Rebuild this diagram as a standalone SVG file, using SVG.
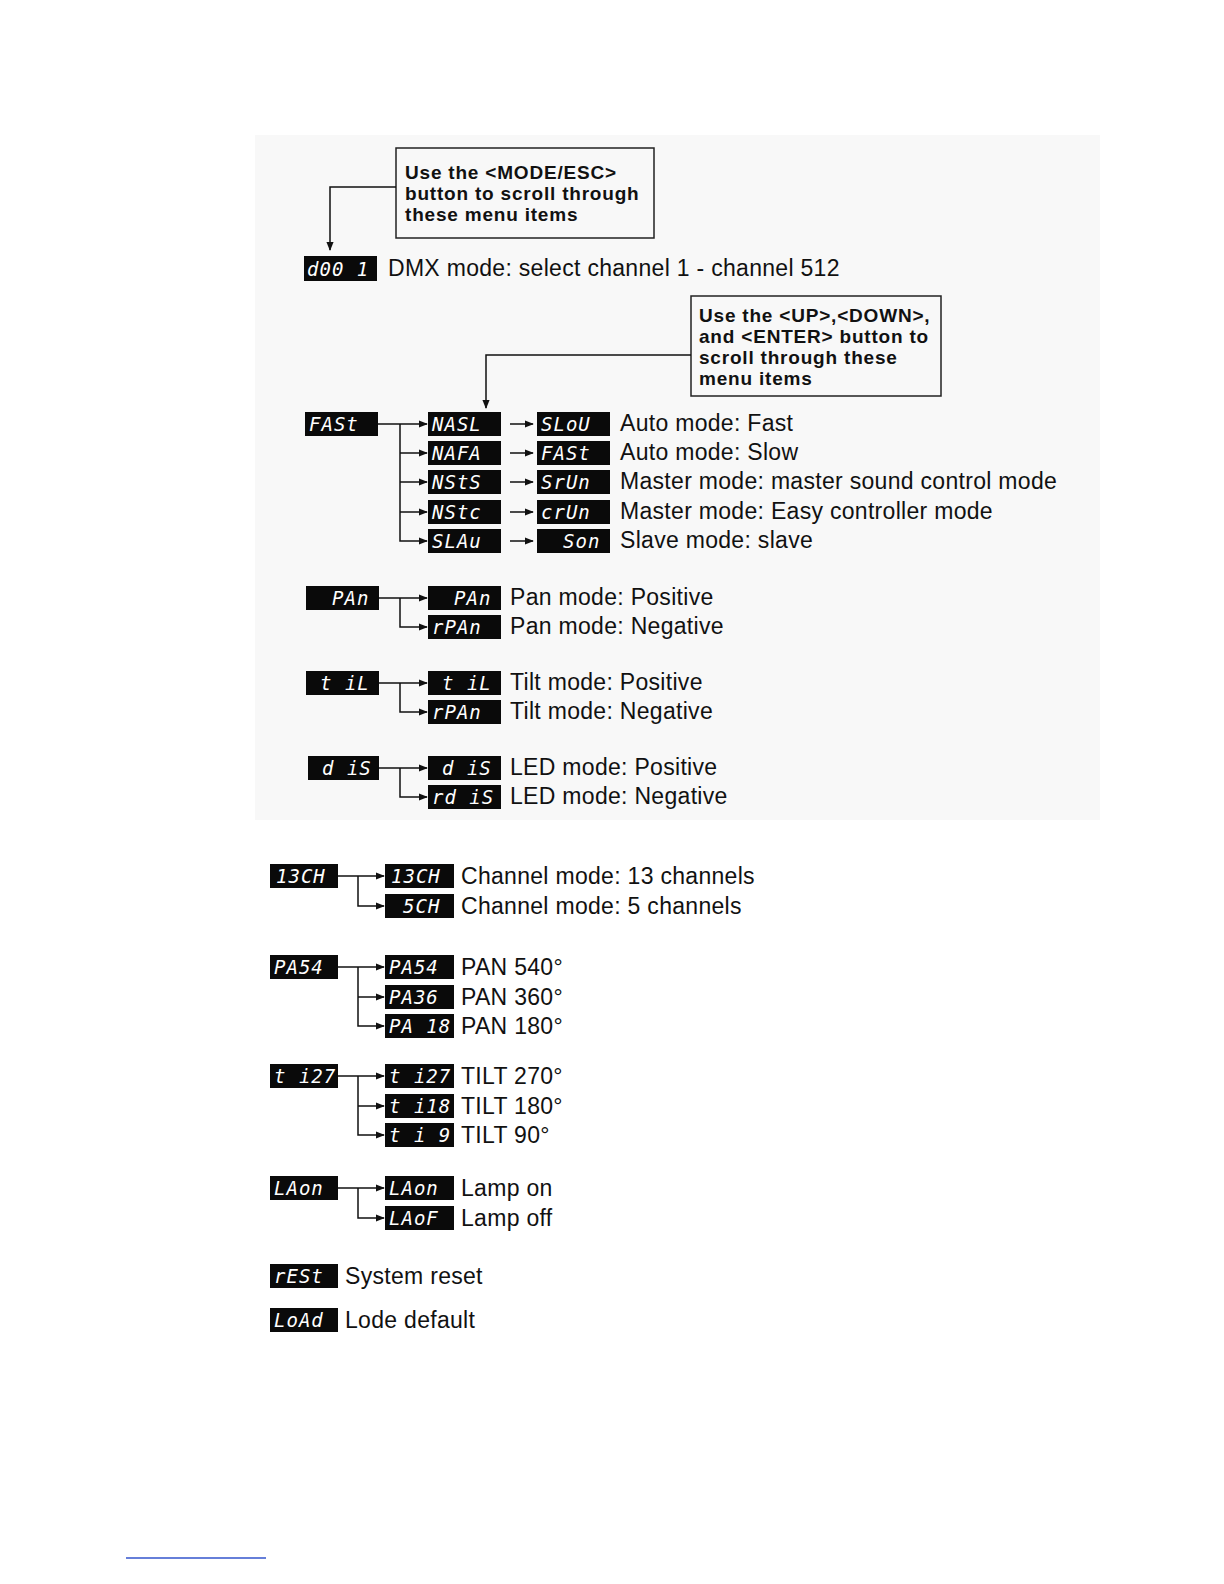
<svg xmlns="http://www.w3.org/2000/svg" width="1224" height="1584" viewBox="0 0 1224 1584">
<style>
.led{fill:#0a0a0a}
.lt{fill:#fff;font-family:"DejaVu Sans Mono",monospace;font-style:italic;font-size:19px;letter-spacing:1px}
.t{fill:#111;font-family:"Liberation Sans",Arial,sans-serif;font-size:23px;letter-spacing:0.3px}
.bt{fill:#111;font-family:"Liberation Sans",Arial,sans-serif;font-size:19px;font-weight:bold;letter-spacing:0.8px}
.box{fill:none;stroke:#222;stroke-width:1.5}
.c{fill:none;stroke:#111;stroke-width:1.5}
</style>
<defs><marker id="a" viewBox="0 0 10 10" refX="9" refY="5" markerWidth="6" markerHeight="6" orient="auto"><path d="M0,1 L10,5 L0,9z" fill="#111"/></marker></defs>
<rect width="1224" height="1584" fill="#fff"/>
<rect x="255" y="135" width="845" height="685" fill="#f8f8f8"/>
<line x1="126" y1="1558" x2="266" y2="1558" stroke="#3355cc" stroke-width="1.5"/>
<g id="note1"><rect class="box" x="396" y="148" width="258" height="90" fill="#fff"/>
<text class="bt" x="405" y="179">Use the &lt;MODE/ESC&gt;</text><text class="bt" x="405" y="200">button to scroll through</text><text class="bt" x="405" y="221">these menu items</text></g>
<g id="note2"><rect class="box" x="691" y="296" width="250" height="100" fill="#fff"/>
<text class="bt" x="699" y="322">Use the &lt;UP&gt;,&lt;DOWN&gt;,</text><text class="bt" x="699" y="343">and &lt;ENTER&gt; button to</text><text class="bt" x="699" y="364">scroll through these</text><text class="bt" x="699" y="385">menu items</text></g>
<g id="connectors">
<path class="c" d="M396,187 H330 V250" marker-end="url(#a)"/>
<path class="c" d="M691,355 H486 V408" marker-end="url(#a)"/>
<path class="c" d="M378,424 H427" marker-end="url(#a)"/>
<path class="c" d="M400,424 V541 H427" marker-end="url(#a)"/>
<path class="c" d="M400,453 H427" marker-end="url(#a)"/><path class="c" d="M400,482 H427" marker-end="url(#a)"/><path class="c" d="M400,512 H427" marker-end="url(#a)"/>
<path class="c" d="M510,424 H533" marker-end="url(#a)"/><path class="c" d="M510,453 H533" marker-end="url(#a)"/><path class="c" d="M510,482 H533" marker-end="url(#a)"/><path class="c" d="M510,512 H533" marker-end="url(#a)"/><path class="c" d="M510,541 H533" marker-end="url(#a)"/>
<path class="c" d="M379,598 H427" marker-end="url(#a)"/><path class="c" d="M400,598 V627 H427" marker-end="url(#a)"/>
<path class="c" d="M379,683 H427" marker-end="url(#a)"/><path class="c" d="M400,683 V712 H427" marker-end="url(#a)"/>
<path class="c" d="M379,768 H427" marker-end="url(#a)"/><path class="c" d="M400,768 V797 H427" marker-end="url(#a)"/>
<path class="c" d="M338,876 H384" marker-end="url(#a)"/><path class="c" d="M358,876 V906 H384" marker-end="url(#a)"/>
<path class="c" d="M338,967 H384" marker-end="url(#a)"/><path class="c" d="M358,967 V1026 H384" marker-end="url(#a)"/><path class="c" d="M358,997 H384" marker-end="url(#a)"/>
<path class="c" d="M338,1076 H384" marker-end="url(#a)"/><path class="c" d="M358,1076 V1135 H384" marker-end="url(#a)"/><path class="c" d="M358,1106 H384" marker-end="url(#a)"/>
<path class="c" d="M338,1188 H384" marker-end="url(#a)"/><path class="c" d="M358,1188 V1218 H384" marker-end="url(#a)"/>
</g>
<g id="dmx"><rect class="led" x="304" y="256" width="73" height="25"/><text class="lt" x="307" y="276">d00 1</text><text class="t" x="388" y="276">DMX mode: select channel 1 - channel 512</text></g>
<g id="fast">
<rect class="led" x="305" y="412" width="73" height="24"/><text class="lt" x="309" y="431">FASt</text>
<rect class="led" x="428" y="412" width="73" height="24"/><text class="lt" x="432" y="431">NASL</text>
<rect class="led" x="428" y="441" width="73" height="24"/><text class="lt" x="432" y="460">NAFA</text>
<rect class="led" x="428" y="470" width="73" height="24"/><text class="lt" x="432" y="489">NStS</text>
<rect class="led" x="428" y="500" width="73" height="24"/><text class="lt" x="432" y="519">NStc</text>
<rect class="led" x="428" y="529" width="73" height="24"/><text class="lt" x="432" y="548">SLAu</text>
<rect class="led" x="537" y="412" width="73" height="24"/><text class="lt" x="541" y="431">SLoU</text>
<rect class="led" x="537" y="441" width="73" height="24"/><text class="lt" x="541" y="460">FASt</text>
<rect class="led" x="537" y="470" width="73" height="24"/><text class="lt" x="541" y="489">SrUn</text>
<rect class="led" x="537" y="500" width="73" height="24"/><text class="lt" x="541" y="519">crUn</text>
<rect class="led" x="537" y="529" width="73" height="24"/><text class="lt" x="563" y="548">Son</text>
<text class="t" x="620" y="431">Auto mode: Fast</text><text class="t" x="620" y="460">Auto mode: Slow</text><text class="t" x="620" y="489">Master mode: master sound control mode</text><text class="t" x="620" y="519">Master mode: Easy controller mode</text><text class="t" x="620" y="548">Slave mode: slave</text>
</g>
<g id="pan">
<rect class="led" x="306" y="586" width="73" height="24"/><text class="lt" x="332" y="605">PAn</text>
<rect class="led" x="428" y="586" width="73" height="24"/><text class="lt" x="454" y="605">PAn</text>
<rect class="led" x="428" y="615" width="73" height="24"/><text class="lt" x="432" y="634">rPAn</text>
<text class="t" x="510" y="605">Pan mode: Positive</text><text class="t" x="510" y="634">Pan mode: Negative</text></g>
<g id="tilt">
<rect class="led" x="306" y="671" width="73" height="24"/><text class="lt" x="320" y="690">t iL</text>
<rect class="led" x="428" y="671" width="73" height="24"/><text class="lt" x="442" y="690">t iL</text>
<rect class="led" x="428" y="700" width="73" height="24"/><text class="lt" x="432" y="719">rPAn</text>
<text class="t" x="510" y="690">Tilt mode: Positive</text><text class="t" x="510" y="719">Tilt mode: Negative</text></g>
<g id="led">
<rect class="led" x="308" y="756" width="71" height="24"/><text class="lt" x="322" y="775">d iS</text>
<rect class="led" x="428" y="756" width="73" height="24"/><text class="lt" x="442" y="775">d iS</text>
<rect class="led" x="428" y="785" width="73" height="24"/><text class="lt" x="432" y="804">rd iS</text>
<text class="t" x="510" y="775">LED mode: Positive</text><text class="t" x="510" y="804">LED mode: Negative</text></g>
<g id="ch">
<rect class="led" x="270" y="864" width="68" height="24"/><text class="lt" x="276" y="883">13CH</text>
<rect class="led" x="385" y="864" width="69" height="24"/><text class="lt" x="391" y="883">13CH</text>
<rect class="led" x="385" y="894" width="69" height="24"/><text class="lt" x="403" y="913">5CH</text>
<text class="t" x="461" y="884">Channel mode: 13 channels</text><text class="t" x="461" y="914">Channel mode: 5 channels</text></g>
<g id="pas">
<rect class="led" x="270" y="955" width="68" height="24"/><text class="lt" x="274" y="974">PA54</text>
<rect class="led" x="385" y="955" width="69" height="24"/><text class="lt" x="389" y="974">PA54</text>
<rect class="led" x="385" y="985" width="69" height="24"/><text class="lt" x="389" y="1004">PA36</text>
<rect class="led" x="385" y="1014" width="69" height="24"/><text class="lt" x="389" y="1033">PA 18</text>
<text class="t" x="461" y="975">PAN 540°</text><text class="t" x="461" y="1005">PAN 360°</text><text class="t" x="461" y="1034">PAN 180°</text></g>
<g id="tlt">
<rect class="led" x="270" y="1064" width="68" height="24"/><text class="lt" x="274" y="1083">t i27</text>
<rect class="led" x="385" y="1064" width="69" height="24"/><text class="lt" x="389" y="1083">t i27</text>
<rect class="led" x="385" y="1094" width="69" height="24"/><text class="lt" x="389" y="1113">t i18</text>
<rect class="led" x="385" y="1123" width="69" height="24"/><text class="lt" x="389" y="1142">t i  9</text>
<text class="t" x="461" y="1084">TILT 270°</text><text class="t" x="461" y="1114">TILT 180°</text><text class="t" x="461" y="1143">TILT 90°</text></g>
<g id="lamp">
<rect class="led" x="270" y="1176" width="68" height="24"/><text class="lt" x="274" y="1195">LAon</text>
<rect class="led" x="385" y="1176" width="69" height="24"/><text class="lt" x="389" y="1195">LAon</text>
<rect class="led" x="385" y="1206" width="69" height="24"/><text class="lt" x="389" y="1225">LAoF</text>
<text class="t" x="461" y="1196">Lamp on</text><text class="t" x="461" y="1226">Lamp off</text></g>
<g id="reset"><rect class="led" x="270" y="1264" width="68" height="24"/><text class="lt" x="274" y="1283">rESt</text><text class="t" x="345" y="1284">System reset</text></g>
<g id="load"><rect class="led" x="270" y="1308" width="68" height="24"/><text class="lt" x="274" y="1327">LoAd</text><text class="t" x="345" y="1328">Lode default</text></g>
</svg>
